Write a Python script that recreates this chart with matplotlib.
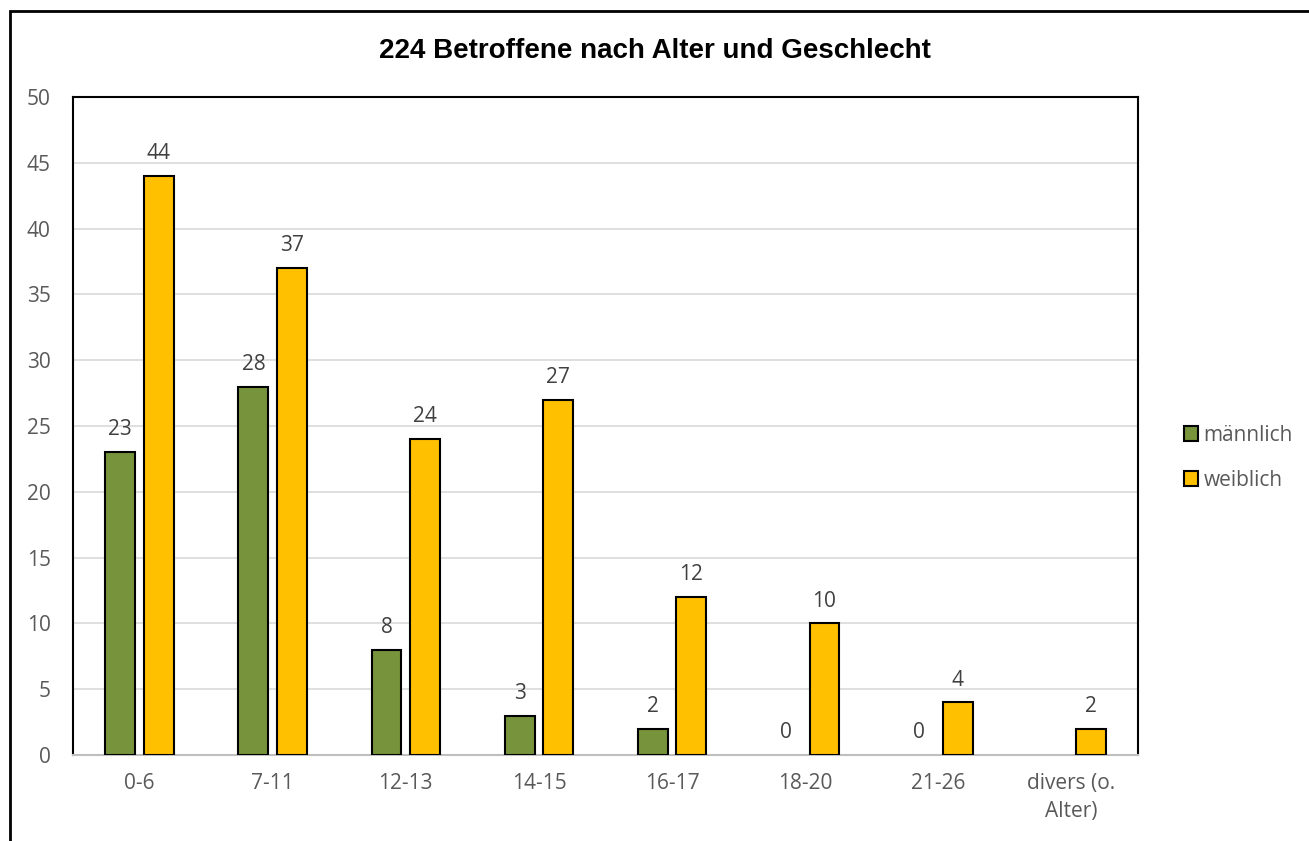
import matplotlib
matplotlib.use("Agg")
import matplotlib.pyplot as plt
import numpy as np
from matplotlib.patches import Rectangle

categories = ["0-6", "7-11", "12-13", "14-15", "16-17", "18-20", "21-26", "divers (o.\nAlter)"]
maennlich = [23, 28, 8, 3, 2, 0, 0, None]
weiblich = [44, 37, 24, 27, 12, 10, 4, 2]
title = "224 Betroffene nach Alter und Geschlecht"

green = "#77933C"
yellow = "#FFC000"
gray_text = "#595959"
font = ["Open Sans", "DejaVu Sans"]
fs = 15

fig = plt.figure(figsize=(13.09, 8.41), dpi=100)
W, H = 1309, 841
ax = fig.add_axes([73 / W, 1 - 755 / H, (1138 - 73) / W, (755 - 97) / H])

x = np.arange(len(categories))
bw = 0.225
off = 0.145
m_vals = [np.nan if v is None else v for v in maennlich]
b1 = ax.bar(x - off, m_vals, bw, color=green, edgecolor="black", linewidth=1.5, label="männlich", zorder=3)
b2 = ax.bar(x + off, weiblich, bw, color=yellow, edgecolor="black", linewidth=1.5, label="weiblich", zorder=3)
for rect, v in zip(b1.patches, maennlich):
    if not v:
        rect.set_linewidth(0)
for rect, v in zip(b2.patches, weiblich):
    if not v:
        rect.set_linewidth(0)

for xi, v in zip(x, maennlich):
    if v is not None:
        ax.text(xi - off, v + 0.9, str(v), ha="center", va="bottom", fontsize=fs, color="#404040", family=font)
for xi, v in zip(x, weiblich):
    ax.text(xi + off, v + 0.9, str(v), ha="center", va="bottom", fontsize=fs, color="#404040", family=font)

ax.set_xlim(-0.5, len(categories) - 0.5)
ax.set_ylim(0, 50)
ax.set_yticks(range(0, 51, 5))
ax.yaxis.grid(True, color="#D9D9D9", linewidth=1.2, zorder=0)
ax.set_axisbelow(True)
ax.set_xticks(x)
ax.set_xticklabels(categories, family=font, fontsize=fs, color=gray_text, linespacing=1.45)
for lab in ax.get_yticklabels():
    lab.set_family(font)
    lab.set_fontsize(fs)
    lab.set_color(gray_text)
ax.tick_params(axis="both", length=0)
ax.tick_params(axis="y", pad=16)
ax.tick_params(axis="x", pad=13)
for s in ["left", "top", "right"]:
    ax.spines[s].set_color("black")
    ax.spines[s].set_linewidth(1.5)
ax.spines["bottom"].set_color("#BFBFBF")
ax.spines["bottom"].set_linewidth(1.5)

fig.text(0.5, 1 - 51 / H, title, ha="center", va="center", fontsize=20, fontweight="bold",
         family=["Liberation Sans", "DejaVu Sans"], color="black")

leg = fig.legend(handles=[b1, b2], loc="center left", bbox_to_anchor=(1165 / W, 1 - 458 / H),
                 frameon=False, prop={"family": font, "size": fs}, handlelength=0.7, handleheight=0.7,
                 handletextpad=0.25, labelspacing=1.15)
for t in leg.get_texts():
    t.set_color(gray_text)

fig.patches.append(Rectangle((10 / W, -0.01), 1.1, 1 - 11 / H + 0.01, transform=fig.transFigure,
                             fill=False, edgecolor="black", linewidth=2))

fig.savefig("out.png", dpi=100)
